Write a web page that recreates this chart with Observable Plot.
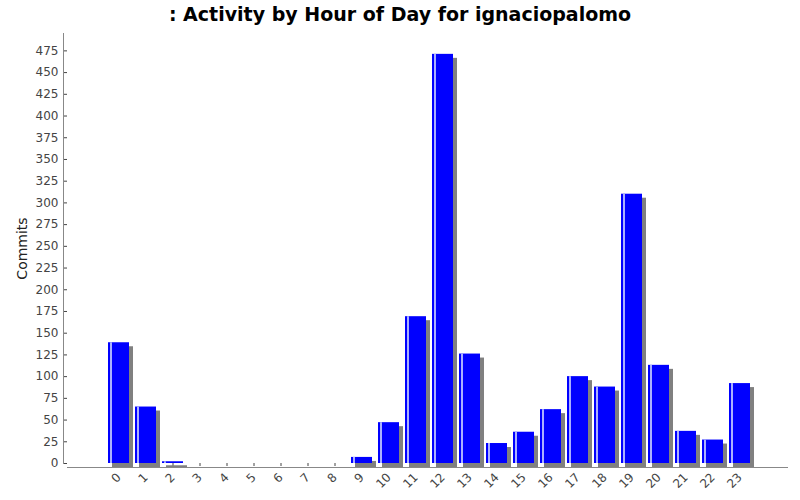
<!DOCTYPE html>
<html><head><meta charset="utf-8">
<script src="https://cdn.jsdelivr.net/npm/d3@7"></script>
<script src="https://cdn.jsdelivr.net/npm/@observablehq/plot@0.6"></script>
<style>
body{margin:0;background:#fff;font-family:"DejaVu Sans",sans-serif}
#title{height:30px;line-height:28px;text-align:center;font-weight:bold;font-size:19px;color:#000}
</style></head>
<body><div id="title">: Activity by Hour of Day for ignaciopalomo</div><div id="chart"></div>
<script>
const hours = d3.range(24).map(String);
const commits = [139, 65, 2, 0, 0, 0, 0, 0, 0, 7, 47, 169, 471, 126, 23, 36, 62, 100, 88, 310, 113, 37, 27, 92];
const yTicks = d3.range(0, 476, 25);

const data = hours.map((h, i) => ({hour: h, commits: commits[i]}));
const nonZero = data.filter(d => d.commits > 0);

const chart = Plot.plot({
  width: 800,
  height: 470,
  marginLeft: 67,
  marginRight: 12,
  marginTop: 3,
  marginBottom: 37,
  insetLeft: 33,
  insetRight: 30,
  style: {fontFamily: "DejaVu Sans", fontSize: "12px", color: "#444"},
  x: {domain: hours, padding: 0.22, label: null, tickRotate: -45, tickSize: 3},
  y: {domain: [0, 495], ticks: yTicks, label: "Commits", labelAnchor: "center", labelOffset: 50, tickSize: 3},
  marks: [
    Plot.barY(nonZero, {x: "hour", y: "commits", fill: "#808080", dx: 4, dy: 4}),
    Plot.barY(nonZero, {x: "hour", y: "commits", fill: "#0000ff"}),
    Plot.barY(nonZero, {x: "hour", y: "commits", fill: "#aab0ff", insetLeft: 2, insetRight: 17}),
    Plot.ruleY([0], {stroke: "#888", dy: 4}),
    Plot.frame({anchor: "left", stroke: "#888", dx: -4})
  ]
});
chart.querySelectorAll('[aria-label="y-axis label"] text').forEach(t => {
  t.textContent = "Commits"; t.style.fontSize = "14px"; t.style.fill = "#222";
});
d3.select("#chart").append(() => chart);
</script></body></html>
